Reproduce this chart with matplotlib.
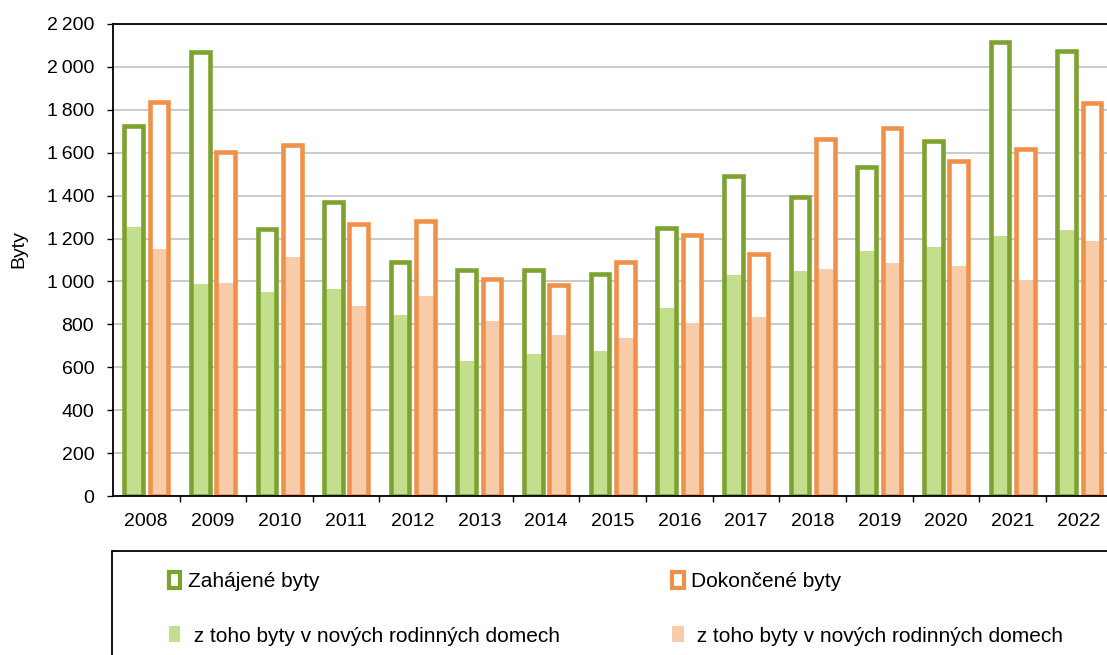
import matplotlib.pyplot as plt
from matplotlib.patches import Patch, Rectangle
from matplotlib.ticker import FuncFormatter, MultipleLocator
import numpy as np

years = ['2008', '2009', '2010', '2011', '2012', '2013', '2014', '2015',
         '2016', '2017', '2018', '2019', '2020', '2021', '2022']
zahajene = [1725, 2070, 1243, 1368, 1091, 1054, 1054, 1035, 1249, 1492,
            1392, 1535, 1653, 2116, 2073]
zahajene_rd = [1255, 988, 951, 963, 842, 628, 662, 674, 876, 1029,
               1047, 1140, 1159, 1212, 1240]
dokoncene = [1837, 1604, 1635, 1268, 1284, 1010, 985, 1091, 1218, 1128,
             1663, 1716, 1560, 1616, 1834]
dokoncene_rd = [1153, 991, 1116, 886, 932, 814, 749, 736, 805, 833,
                1060, 1084, 1072, 1007, 1190]

green = '#7DA32F'
orange = '#F0914A'
light_green = '#C3DF8E'
light_orange = '#F8CCA9'

plt.rcParams['font.family'] = ['Liberation Sans', 'DejaVu Sans']

plt.switch_backend('Agg')
fig = plt.figure(figsize=(11.07, 6.55), dpi=100)
ax = fig.add_axes([0.102, 0.2427, 0.903, 0.7207])

x = np.arange(len(years))
w = 0.28
off = 0.19

# white inside of the hollow bars, then the "z toho" fills, then outlines
ax.bar(x - off, zahajene, w, color='white', zorder=2)
ax.bar(x + off, dokoncene, w, color='white', zorder=2)
ax.bar(x - off, zahajene_rd, w, color=light_green, zorder=3)
ax.bar(x + off, dokoncene_rd, w, color=light_orange, zorder=3)
ax.bar(x - off, zahajene, w, facecolor='none', edgecolor=green,
       linewidth=3.3, zorder=4)
ax.bar(x + off, dokoncene, w, facecolor='none', edgecolor=orange,
       linewidth=3.3, zorder=4)

ax.set_xlim(-0.5, len(years) - 0.5)
ax.set_ylim(0, 2200)
ax.yaxis.set_major_locator(MultipleLocator(200))
ax.yaxis.set_major_formatter(
    FuncFormatter(lambda v, p: f"{int(v):,}".replace(',', '\u2009')))
ax.grid(axis='y', color='#c6c6c6', linewidth=1.3, zorder=0)
ax.set_axisbelow(True)

ax.set_xticks(x)
ax.set_xticklabels(years)
ax.set_xticks(np.arange(len(years)) + 0.5, minor=True)
ax.tick_params(axis='x', which='major', length=0, pad=12, labelsize=14)
ax.tick_params(axis='x', which='minor', length=4.5, width=1, direction='out')
ax.tick_params(axis='y', length=4.5, width=1, direction='out', pad=9, labelsize=14)

for s in ['left', 'bottom', 'top']:
    ax.spines[s].set_color('black')
    ax.spines[s].set_linewidth(1.3)
ax.spines['right'].set_visible(False)
ax.spines['top'].set_zorder(5)
ax.spines['bottom'].set_zorder(5)

fig.text(0.017, 0.62, 'Byty', rotation=90, fontsize=14, va='center', ha='center')

# legend frame running off the bottom and right of the image
fig.patches.append(Rectangle((0.1015, -0.05), 1.0, 0.1588 + 0.05,
                             transform=fig.transFigure, fill=False,
                             edgecolor='black', linewidth=1.3))

handles = [
    Patch(facecolor='white', edgecolor=green, linewidth=3),
    Patch(facecolor=light_green, edgecolor='none'),
    Patch(facecolor='white', edgecolor=orange, linewidth=3),
    Patch(facecolor=light_orange, edgecolor='none'),
]
labels = ['Zahájené byty', ' z toho byty v nových rodinných domech',
          'Dokončené byty', ' z toho byty v nových rodinných domech']
fig.legend(handles, labels, ncol=2, loc='upper left',
           bbox_to_anchor=(0.145, 0.139), frameon=False, fontsize=15,
           handlelength=0.55, handleheight=0.8, handletextpad=0.35,
           labelspacing=1.68, columnspacing=5.4, borderaxespad=0)

fig.savefig('out.png', dpi=100)
